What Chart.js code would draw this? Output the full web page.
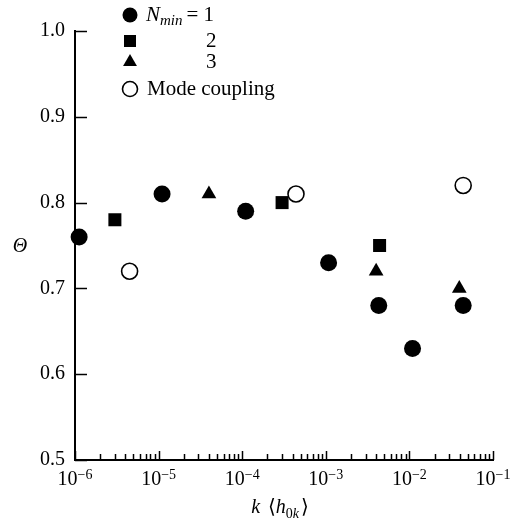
<!DOCTYPE html>
<html>
<head>
<meta charset="utf-8">
<script src="https://cdn.jsdelivr.net/npm/chart.js@4/dist/chart.umd.min.js"></script>
<style>
  body { margin: 0; background: #fff; }
</style>
</head>
<body>
<canvas id="theta-chart" width="514" height="530"></canvas>
<script>
// values
const nmin1X = [1.12e-6, 1.1e-5, 1.1e-4, 1.08e-3, 4.3e-3, 1.09e-2, 4.4e-2];
const nmin1Y = [0.76, 0.81, 0.79, 0.73, 0.68, 0.63, 0.68];
const nmin2X = [3.0e-6, 3.0e-4, 4.4e-3];
const nmin2Y = [0.78, 0.80, 0.75];
const nmin3X = [4.0e-5, 4.0e-3, 3.95e-2];
const nmin3Y = [0.81, 0.72, 0.70];
const modeX = [4.5e-6, 4.4e-4, 4.4e-2];
const modeY = [0.72, 0.81, 0.82];

const xExponents = [-6, -5, -4, -3, -2, -1];
const yTicks = [0.5, 0.6, 0.7, 0.8, 0.9, 1.0];
const legendLabels = ['1', '2', '3', 'Mode coupling'];

const serif = "'Liberation Serif', 'DejaVu Serif', serif";

function toPoints(xs, ys) {
    return xs.map((x, i) => ({x: x, y: ys[i]}));
}

const datasets = [
    {label: 'N_min = 1', data: toPoints(nmin1X, nmin1Y), pointStyle: 'circle', pointRadius: 8.5,
     backgroundColor: '#000', borderColor: '#000', borderWidth: 0},
    {label: '2', data: toPoints(nmin2X, nmin2Y), pointStyle: 'rect', pointRadius: 9.2,
     backgroundColor: '#000', borderColor: '#000', borderWidth: 0},
    {label: '3', data: toPoints(nmin3X, nmin3Y), pointStyle: 'triangle', pointRadius: 8.5,
     backgroundColor: '#000', borderColor: '#000', borderWidth: 0},
    {label: 'Mode coupling', data: toPoints(modeX, modeY), pointStyle: 'circle', pointRadius: 8,
     backgroundColor: '#fff', borderColor: '#000', borderWidth: 1.6}
];
datasets.forEach(d => { d.clip = false; d.pointHoverRadius = d.pointRadius; });

function drawParts(ctx, parts, x, y) {
    // parts: text pieces drawn one after another on a shared baseline
    ctx.textAlign = 'left';
    ctx.textBaseline = 'alphabetic';
    parts.forEach(p => {
        ctx.font = (p.italic ? 'italic ' : '') + p.size + 'px ' + serif;
        ctx.fillText(p.t, x, y + (p.dy || 0));
        x += ctx.measureText(p.t).width + (p.gap || 0);
    });
    return x;
}
function partsWidth(ctx, parts) {
    let w = 0;
    parts.forEach(p => {
        ctx.font = (p.italic ? 'italic ' : '') + p.size + 'px ' + serif;
        w += ctx.measureText(p.t).width + (p.gap || 0);
    });
    return w;
}

const axisDecor = {
    id: 'axisDecor',
    afterDraw(chart) {
        const {ctx, chartArea: {left, bottom}, scales: {x, y}} = chart;
        ctx.save();
        ctx.strokeStyle = '#000';
        ctx.fillStyle = '#000';
        ctx.lineWidth = 1.5;

        // inward ticks on y
        yTicks.forEach(v => {
            const py = Math.round(y.getPixelForValue(v)) + 0.5;
            ctx.beginPath();
            ctx.moveTo(left, py);
            ctx.lineTo(left + 12, py);
            ctx.stroke();
        });

        // inward ticks on x, decades and the 2..9 in between
        xExponents.forEach((e, i) => {
            const mults = i < xExponents.length - 1 ? [1, 2, 3, 4, 5, 6, 7, 8, 9] : [1];
            mults.forEach(m => {
                const px = Math.round(x.getPixelForValue(m * Math.pow(10, e))) + 0.5;
                const len = m === 1 ? 9 : 6;
                ctx.beginPath();
                ctx.moveTo(px, bottom);
                ctx.lineTo(px, bottom - len);
                ctx.stroke();
            });
        });

        // x tick labels 10^e
        xExponents.forEach(e => {
            const px = x.getPixelForValue(Math.pow(10, e));
            const parts = [{t: '10', size: 20}, {t: '\u2212' + Math.abs(e), size: 14, dy: -6}];
            const w = partsWidth(ctx, parts);
            drawParts(ctx, parts, px - w / 2, 485);
        });

        // axis titles
        const xt = [
            {t: 'k', italic: true, size: 20, gap: 8},
            {t: '\u27E8', size: 20},
            {t: 'h', italic: true, size: 20},
            {t: '0', size: 14, dy: 5},
            {t: 'k', italic: true, size: 14, dy: 5, gap: 2},
            {t: '\u27E9', size: 20}
        ];
        const xw = partsWidth(ctx, xt);
        drawParts(ctx, xt, 280 - xw / 2, 513);

        ctx.font = 'italic 20px ' + serif;
        ctx.textAlign = 'center';
        ctx.textBaseline = 'middle';
        ctx.fillText('\u0398', 20, 247);

        // legend
        const rows = [15, 41, 62, 89];
        const sizes = [7.5, 8.5, 8, 7.5];
        chart.data.datasets.forEach((d, i) => {
            ctx.fillStyle = d.backgroundColor;
            ctx.strokeStyle = d.borderColor;
            ctx.lineWidth = d.borderWidth;
            Chart.helpers.drawPoint(ctx, {pointStyle: d.pointStyle, radius: sizes[i], rotation: 0,
                borderWidth: d.borderWidth}, 130, rows[i]);
        });
        ctx.fillStyle = '#000';
        drawParts(ctx, [
            {t: 'N', italic: true, size: 21},
            {t: 'min', italic: true, size: 15, dy: 4, gap: 4},
            {t: '= ' + legendLabels[0], size: 21}
        ], 146, 21);
        drawParts(ctx, [{t: legendLabels[1], size: 21}], 206, 47);
        drawParts(ctx, [{t: legendLabels[2], size: 21}], 206, 68);
        drawParts(ctx, [{t: legendLabels[3], size: 21}], 147, 95);
        ctx.restore();
    }
};

new Chart('theta-chart', {
    type: 'scatter',
    data: {datasets: datasets},
    options: {
        responsive: false,
        animation: false,
        layout: {padding: {top: 31, right: 21, left: 0, bottom: 0}, autoPadding: false},
        plugins: {legend: {display: false}, tooltip: {enabled: false}},
        scales: {
            x: {
                type: 'logarithmic',
                min: 1e-6,
                max: 1e-1,
                grid: {display: false, drawTicks: false},
                border: {display: true, color: '#000', width: 2},
                ticks: {display: false},
                afterFit(scale) { scale.height = 70; }
            },
            y: {
                type: 'linear',
                min: 0.5,
                max: 1.0,
                grid: {display: false, drawTicks: false},
                border: {display: true, color: '#000', width: 2},
                ticks: {
                    stepSize: 0.1,
                    padding: 10,
                    color: '#000',
                    font: {family: serif, size: 20},
                    callback: v => v.toFixed(1)
                },
                afterFit(scale) { scale.width = 75; }
            }
        }
    },
    plugins: [axisDecor]
});
</script>
</body>
</html>
